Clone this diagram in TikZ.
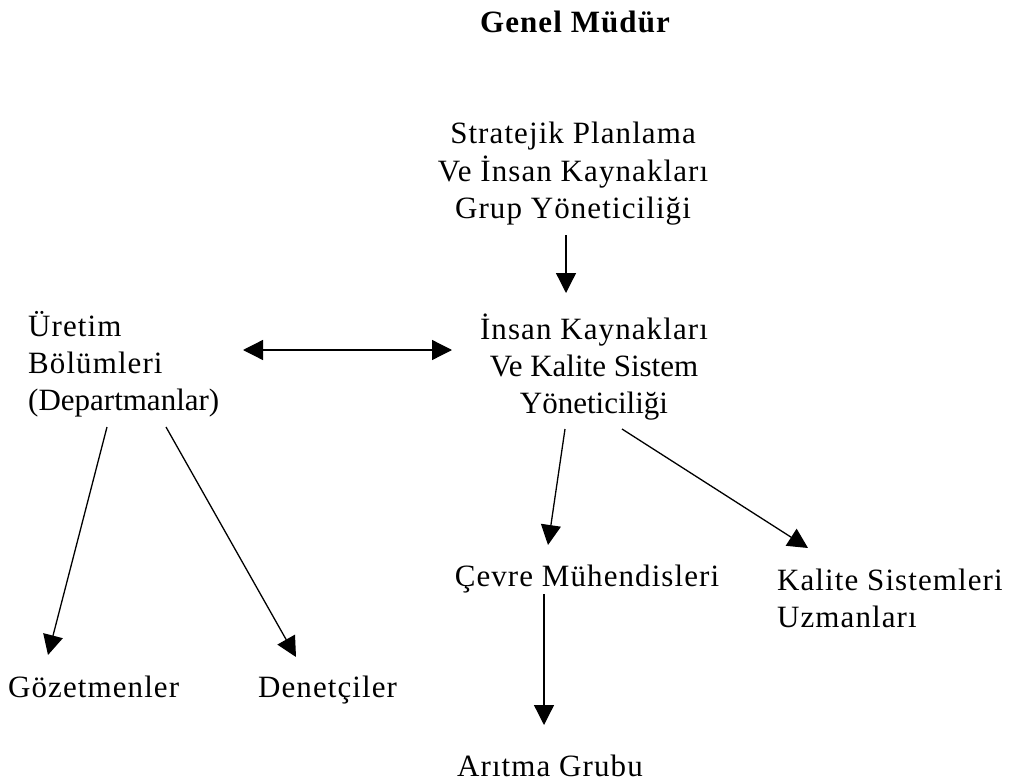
\documentclass[tikz,border=0pt]{standalone}
\usepackage{fontspec}
\setmainfont{Liberation Serif}
\newfontfamily\widesp[LetterSpace=3.5]{Liberation Serif}
\newfontfamily\plainserif{Liberation Serif}
\usetikzlibrary{arrows.meta,calc}
\begin{document}
\begin{tikzpicture}[x=1pt,y=-1pt,
  lbl/.style={inner sep=0pt, font=\fontsize{31}{37}\widesp},
  arr/.style={line width=1.3pt, -{Triangle[length=20pt,width=20pt]}},
  dblarr/.style={line width=1.3pt, {Triangle[length=20pt,width=20pt]}-{Triangle[length=20pt,width=20pt]}},
  ]
\useasboundingbox[fill=white] (0,0) rectangle (1012,781);

% title
\node[lbl, font=\fontsize{31}{37}\widesp\bfseries, anchor=base] (gm) at (575,33) {Genel Müdür};

% boxes (the base anchor of a multi-line node sits on its last line)
\node[lbl, align=center, anchor=base] (strat) at (573,218)
  {Stratejik Planlama\\Ve İnsan Kaynakları\\Grup Yöneticiliği};
\node[lbl, align=center, anchor=base] (insan) at (594,413)
  {İnsan Kaynakları\\{\plainserif Ve Kalite Sistem}\\{\plainserif Yöneticiliği}};
\node[lbl, align=left, anchor=base west] (uretim) at (28,410)
  {Üretim\\Bölümleri\\{\plainserif (Departmanlar)}};
\node[lbl, anchor=base west] (gozet) at (8,697) {Gözetmenler};
\node[lbl, anchor=base west] (denet) at (258,697) {Denetçiler};
\node[lbl, anchor=base] (cevre) at (587,586) {Çevre Mühendisleri};
\node[lbl, align=left, anchor=base west] (kalite) at (777,627)
  {Kalite Sistemleri\\Uzmanları};
\node[lbl, anchor=base] (aritma) at (550,776) {Arıtma Grubu};

% connectors
\draw[arr] ($(strat.base)+(-7,17)$) -- ($(insan.base)+(-28,-120)$);
\draw[dblarr] ($(uretim.base west)+(215,-60)$) -- ($(insan.base)+(-142,-63)$);
\draw[arr] ($(uretim.base west)+(79,17)$) -- ($(gozet.base west)+(40,-42)$);
\draw[arr] ($(uretim.base west)+(138,17)$) -- ($(denet.base west)+(38,-40)$);
\draw[arr] ($(insan.base)+(-29,16)$) -- ($(cevre.base)+(-39,-41)$);
\draw[arr] ($(insan.base)+(28,16)$) -- ($(kalite.base west)+(31,-79)$);
\draw[arr] ($(cevre.base)+(-43,8)$) -- ($(aritma.base)+(-6,-51)$);
\end{tikzpicture}
\end{document}
